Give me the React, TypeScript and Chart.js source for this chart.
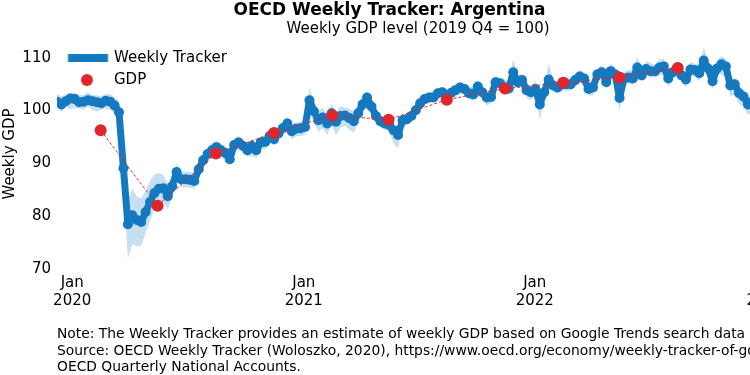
import React, { useEffect, useRef } from 'react';
import { Chart, registerables } from 'chart.js';

Chart.register(...registerables);

// ---- Data ----
const weekStart = '2019-12-08';

const weeklyGdp = [
  101.1, 100.6, 101.2, 101.7, 101.6, 101.0, 101.1, 101.4, 101.2, 101.0,
  100.8, 101.3, 101.1, 100.4, 99.1, 88.5, 77.9, 79.6, 78.7, 78.3,
  80.2, 82.1, 83.8, 84.6, 84.7, 83.2, 85.1, 87.8, 86.4, 86.4,
  86.3, 86.1, 88.3, 90.0, 91.2, 91.9, 92.5, 91.9, 91.4, 90.2,
  92.9, 93.4, 92.7, 91.9, 92.7, 91.9, 93.4, 93.5, 94.6, 94.0,
  95.1, 96.1, 97.0, 95.5, 96.0, 96.1, 96.3, 101.4, 99.3, 97.6,
  98.1, 97.0, 98.9, 97.3, 98.4, 98.5, 98.0, 97.4, 98.9, 100.6,
  101.9, 100.2, 98.4, 97.4, 97.0, 96.7, 95.7, 94.8, 97.6, 97.8,
  98.4, 99.5, 100.8, 101.6, 101.9, 101.9, 102.7, 102.9, 101.9, 102.8,
  103.3, 103.8, 103.5, 102.7, 102.5, 104.0, 102.9, 101.9, 102.0, 104.8,
  104.6, 103.8, 103.6, 106.7, 104.8, 105.2, 103.3, 102.9, 103.5, 100.6,
  102.9, 105.3, 104.2, 103.8, 104.4, 104.4, 104.4, 105.2, 105.9, 105.5,
  103.5, 103.8, 106.3, 106.7, 104.8, 106.9, 106.3, 101.8, 105.5, 105.7,
  105.5, 107.6, 106.1, 107.3, 106.9, 106.9, 107.6, 107.8, 105.5, 106.7,
  107.1, 106.1, 105.3, 107.2, 107.1, 106.5, 108.9, 107.4, 105.0, 107.4,
  108.2, 107.8, 104.2, 104.4, 102.7, 102.1, 100.6, 101.2, 101.4, 102.0,
  101.6, 100.8, 101.4, 101.8,
];

const bandUp = [
  1.4, 1.6, 1.2, 1.0, 1.2, 1.4, 1.3, 1.5, 1.2, 1.3,
  1.4, 1.2, 1.5, 1.6, 2.0, 3.0, 4.5, 5.0, 4.5, 4.5,
  4.0, 4.0, 3.5, 3.0, 2.5, 2.5, 2.0, 1.5, 1.5, 1.5,
  1.5, 1.5, 1.5, 1.2, 1.2, 1.2, 1.2, 1.2, 1.2, 1.5,
  1.2, 1.2, 1.2, 1.5, 1.2, 1.2, 1.2, 1.2, 1.2, 1.5,
  1.5, 1.2, 1.2, 1.5, 1.2, 1.2, 1.2, 2.5, 1.8, 1.8,
  1.8, 1.8, 1.8, 1.8, 1.8, 1.5, 1.8, 1.8, 1.8, 1.5,
  1.2, 1.2, 1.2, 1.2, 1.2, 1.0, 1.0, 1.0, 1.2, 1.0,
  1.0, 1.0, 1.0, 1.0, 1.0, 1.2, 1.0, 1.0, 1.0, 1.2,
  1.2, 1.0, 1.0, 1.2, 1.5, 1.2, 1.0, 1.0, 1.0, 1.2,
  1.0, 1.5, 1.5, 2.5, 1.2, 1.2, 1.2, 1.2, 1.5, 1.0,
  1.2, 3.0, 1.2, 1.2, 1.2, 1.5, 1.2, 1.2, 1.2, 1.2,
  1.2, 1.2, 1.2, 1.2, 1.2, 1.5, 1.2, 1.2, 1.2, 1.5,
  1.5, 2.0, 1.2, 1.5, 1.5, 1.2, 1.5, 1.5, 1.2, 1.2,
  1.2, 1.5, 1.2, 1.5, 1.2, 1.5, 2.5, 1.5, 1.2, 1.5,
  1.5, 1.5, 1.2, 1.2, 1.2, 1.2, 1.2, 1.2, 1.2, 1.2,
  1.2, 1.2, 1.2, 1.2,
];

const bandDown = [
  1.0, 1.5, 1.0, 2.0, 1.8, 1.2, 1.5, 1.2, 1.6, 1.8,
  1.2, 1.5, 1.5, 1.5, 2.5, 4.0, 6.5, 5.5, 5.0, 4.5,
  4.0, 3.5, 3.0, 3.0, 2.5, 2.5, 2.0, 1.5, 1.5, 1.5,
  1.5, 1.5, 1.5, 1.2, 1.2, 1.2, 1.2, 1.5, 1.2, 1.2,
  1.5, 1.2, 1.2, 1.2, 1.8, 1.5, 1.2, 1.5, 1.2, 1.2,
  1.2, 1.2, 1.2, 1.5, 1.5, 1.5, 1.5, 2.5, 2.2, 2.2,
  2.0, 2.2, 2.2, 2.5, 2.2, 2.0, 2.2, 2.2, 1.8, 1.2,
  1.2, 1.2, 1.2, 1.2, 1.2, 1.2, 2.5, 2.5, 1.2, 1.2,
  1.0, 1.0, 1.2, 1.0, 1.0, 1.0, 1.0, 1.0, 1.2, 1.0,
  1.0, 1.0, 1.2, 1.2, 1.2, 1.2, 1.2, 1.5, 1.2, 1.2,
  1.0, 1.2, 1.2, 1.2, 1.2, 1.2, 1.5, 1.5, 1.2, 3.0,
  1.2, 1.2, 1.2, 1.2, 1.2, 1.2, 1.2, 1.2, 1.2, 1.2,
  1.2, 1.5, 1.2, 1.2, 1.2, 1.2, 1.2, 2.5, 1.2, 1.2,
  1.2, 1.2, 1.2, 1.2, 1.2, 1.2, 1.5, 1.5, 1.5, 1.2,
  1.2, 1.2, 1.5, 1.2, 1.2, 1.5, 1.2, 1.5, 1.5, 1.2,
  2.0, 2.0, 2.0, 2.0, 2.0, 2.0, 2.0, 2.0, 1.5, 1.5,
  1.5, 1.5, 1.5, 1.5,
];

const gdpQuarters = ['2020Q1', '2020Q2', '2020Q3', '2020Q4', '2021Q1', '2021Q2', '2021Q3', '2021Q4', '2022Q1', '2022Q2', '2022Q3'];
const gdpDates = ['2020-02-15', '2020-05-15', '2020-08-15', '2020-11-15', '2021-02-15', '2021-05-15', '2021-08-15', '2021-11-15', '2022-02-15', '2022-05-15', '2022-08-15'];
const gdpValues = [95.7, 81.4, 91.3, 95.2, 98.5, 97.7, 101.5, 103.6, 104.7, 105.7, 107.5];

const yTicks = [70, 80, 90, 100, 110];
const xTickDates = ['2020-01-01', '2021-01-01', '2022-01-01', '2023-01-01'];
const xTickLabels = [['Jan', '2020'], ['Jan', '2021'], ['Jan', '2022'], ['Jan', '2023']];

const noteLines = [
  'Note: The Weekly Tracker provides an estimate of weekly GDP based on Google Trends search data',
  'Source: OECD Weekly Tracker (Woloszko, 2020), https://www.oecd.org/economy/weekly-tracker-of-gdp-growth/ and',
  'OECD Quarterly National Accounts.',
];

const BLUE = '#1579c0';
const RED = '#e0252b';
const FONT = "'DejaVu Sans', sans-serif";

const toDay = (iso: string) => (Date.parse(iso + 'T00:00:00Z') - Date.UTC(2020, 0, 1)) / 86400000;

export default function App() {
  const ref = useRef<HTMLCanvasElement | null>(null);

  useEffect(() => {
    if (!ref.current) return;
    const d0 = toDay(weekStart);
    const xs = weeklyGdp.map((_, i) => d0 + 7 * i);
    const weekly = weeklyGdp.map((v, i) => ({ x: xs[i], y: v }));
    const upper = weeklyGdp.map((v, i) => ({ x: xs[i], y: v + bandUp[i] }));
    const lower = weeklyGdp.map((v, i) => ({ x: xs[i], y: v - bandDown[i] }));
    const gdp = gdpDates.map((d, i) => ({ x: toDay(d), y: gdpValues[i], q: gdpQuarters[i] }));

    // legend glyphs
    const lineImg = document.createElement('canvas');
    lineImg.width = 48; lineImg.height = 16;
    const lc = lineImg.getContext('2d')!;
    lc.fillStyle = BLUE;
    lc.fillRect(6.75, 4, 40, 8);
    const dotImg = document.createElement('canvas');
    dotImg.width = 48; dotImg.height = 16;
    const dc = dotImg.getContext('2d')!;
    dc.fillStyle = RED;
    dc.beginPath();
    dc.arc(25.75, 8, 6, 0, Math.PI * 2);
    dc.fill();

    Chart.defaults.font.family = FONT;
    const chart = new Chart(ref.current, {
      type: 'line',
      data: {
        datasets: [
          {
            label: 'GDP',
            data: gdp,
            borderColor: RED,
            backgroundColor: RED,
            borderWidth: 1,
            borderDash: [3, 2],
            pointRadius: 6,
            pointBackgroundColor: RED,
            pointBorderWidth: 0,
            fill: false,
          },
          {
            label: 'Weekly Tracker',
            data: weekly,
            borderColor: BLUE,
            backgroundColor: BLUE,
            borderWidth: 7,
            borderJoinStyle: 'round',
            pointRadius: 5,
            pointBackgroundColor: BLUE,
            pointBorderWidth: 0,
            fill: false,
            clip: 0,
          },
          {
            label: 'upper',
            data: upper,
            borderColor: 'transparent',
            borderWidth: 0,
            pointRadius: 0,
            backgroundColor: 'rgba(31,130,200,0.25)',
            fill: '+1',
            clip: 0,
          },
          {
            label: 'lower',
            data: lower,
            borderColor: 'transparent',
            borderWidth: 0,
            pointRadius: 0,
            fill: false,
            clip: 0,
          },
        ],
      } as any,
      options: {
        responsive: false,
        animation: false,
        devicePixelRatio: 1,
        events: [],
        layout: { padding: { left: 0, right: 37, top: 0, bottom: 0 } },
        plugins: {
          tooltip: { enabled: false },
          title: {
            display: true,
            text: 'OECD Weekly Tracker: Argentina',
            color: '#000',
            font: { size: 17, weight: 'bold', lineHeight: 1.2, family: FONT },
            padding: { top: 0, bottom: 0 },
          },
          subtitle: {
            display: true,
            fullSize: false,
            text: 'Weekly GDP level (2019 Q4 = 100)',
            color: '#000',
            font: { size: 15, lineHeight: 1.2, family: FONT },
            padding: { top: 0, bottom: 1.6 },
          },
          legend: {
            position: 'chartArea',
            align: 'start',
            title: { display: true, text: '', font: { size: 43.5, lineHeight: 1 }, padding: 0 },
            labels: {
              usePointStyle: true,
              pointStyleWidth: 42.5,
              boxHeight: 15,
              padding: 7,
              color: '#000',
              font: { size: 15, family: FONT },
              generateLabels: () => [
                { text: 'Weekly Tracker', fontColor: '#000', pointStyle: lineImg, fillStyle: BLUE, strokeStyle: 'transparent', lineWidth: 0, hidden: false, datasetIndex: 1 },
                { text: 'GDP', fontColor: '#000', pointStyle: dotImg, fillStyle: RED, strokeStyle: 'transparent', lineWidth: 0, hidden: false, datasetIndex: 0 },
              ] as any,
            },
          },
        },
        scales: {
          x: {
            type: 'linear',
            min: xs[0],
            max: xs[xs.length - 1],
            grid: { display: false, drawTicks: false },
            border: { display: false },
            afterBuildTicks: (scale: any) => {
              scale.ticks = xTickDates.map((d) => ({ value: toDay(d) }));
            },
            afterFit: (scale: any) => { scale.height = 107; },
            ticks: {
              autoSkip: false,
              maxRotation: 0,
              padding: 6,
              color: '#000',
              font: { size: 15, family: FONT, lineHeight: 1.2 },
              callback: (_v: any, i: number) => xTickLabels[i],
            },
          },
          y: {
            min: 69.6,
            max: 112.8,
            grid: { display: false, drawTicks: false },
            border: { display: false },
            afterBuildTicks: (scale: any) => {
              scale.ticks = yTicks.map((v) => ({ value: v }));
            },
            afterFit: (scale: any) => { scale.width = 57; },
            ticks: {
              padding: 6,
              labelOffset: 3,
              color: '#000',
              font: { size: 15, family: FONT },
              callback: (v: any) => String(v),
            },
            title: {
              display: true,
              text: 'Weekly GDP',
              color: '#000',
              font: { size: 15, family: FONT, lineHeight: 1.2 },
              padding: { top: 1, bottom: 0 },
            },
          },
        },
      } as any,
    });
    return () => chart.destroy();
  }, []);

  return (
    <div style={{ position: 'fixed', left: 0, top: 0, width: 750, height: 375, overflow: 'hidden', background: '#fff' }}>
      <canvas ref={ref} width={816} height={375} style={{ display: 'block', width: 816, height: 375 }} />
      <div
        style={{
          position: 'absolute',
          left: 57,
          top: 325,
          fontFamily: FONT,
          fontSize: 13.85,
          lineHeight: '16.5px',
          color: '#000',
          whiteSpace: 'nowrap',
        }}
      >
        {noteLines.map((t, i) => (
          <div key={i}>{t}</div>
        ))}
      </div>
    </div>
  );
}
